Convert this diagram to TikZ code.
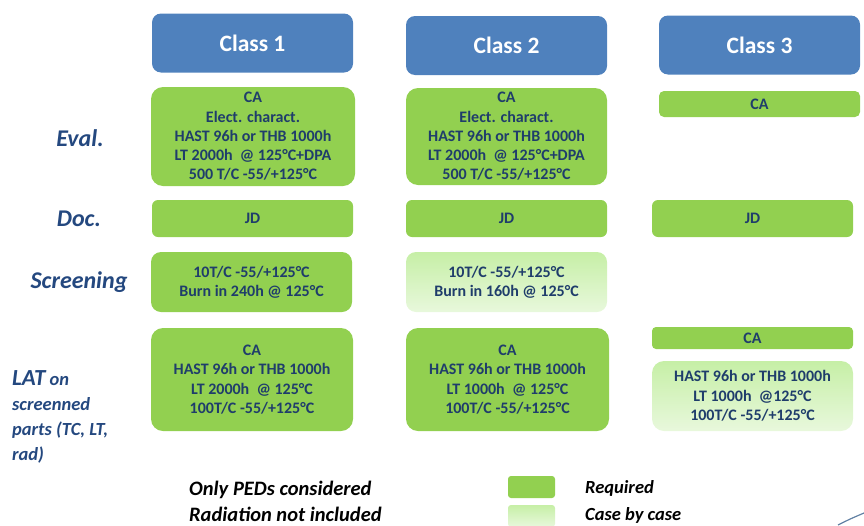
\documentclass[tikz,border=0pt]{standalone}
\usepackage{fontspec}
\setmainfont{Carlito}
\begin{document}
\definecolor{hblue}{HTML}{4F81BD}
\definecolor{reqgreen}{HTML}{92D050}
\definecolor{cbctop}{HTML}{C6EFA6}
\definecolor{cbcbot}{HTML}{E8F8DC}
\definecolor{boxtext}{HTML}{1F3D6B}
\definecolor{rowtext}{HTML}{24487F}
\begin{tikzpicture}[x=1pt,y=-1pt,
  hdr/.style={fill=hblue,rounded corners=9pt,text=white,inner sep=0pt,
    font=\fontsize{23.5}{28}\selectfont\bfseries,minimum width=201pt,minimum height=59pt},
  req/.style={fill=reqgreen,rounded corners=#1,text=boxtext,align=center,inner sep=0pt,
    font=\fontsize{16}{19.3}\selectfont\bfseries},
  req/.default=12pt,
  cbc/.style={top color=cbctop,bottom color=cbcbot,rounded corners=12pt,text=boxtext,
    align=center,inner sep=0pt,font=\fontsize{16}{19.3}\selectfont\bfseries},
  rowlabel/.style={text=rowtext,font=\fontsize{24}{28}\selectfont\bfseries\itshape,inner sep=0pt},
  note/.style={text=black,font=\fontsize{20.5}{25}\selectfont\bfseries\itshape,inner sep=0pt,anchor=west},
  legend/.style={text=black,font=\fontsize{18.5}{22}\selectfont\bfseries\itshape,inner sep=0pt,anchor=west}
]
\useasboundingbox (0,0) rectangle (864,525);

% class headers
\node[hdr] (c1) at (252.5,43) {Class 1};
\node[hdr] (c2) at (506.5,45.5) {Class 2};
\node[hdr] (c3) at (759.5,45) {Class 3};

% row labels
\node[rowlabel] (lev) at (80,138) {Eval.};
\node[rowlabel] (ldoc) at (79,219) {Doc.};
\node[rowlabel] (lscr) at (79,282) {Screening};
\node[text=rowtext,align=left,anchor=north west,inner sep=0pt,
  font=\fontsize{18.5}{24.8}\selectfont\bfseries\itshape] (llat) at (12,370.5)
  {{\fontsize{23}{24.8}\selectfont LAT} on\\screenned\\parts (TC, LT,\\rad)};

% evaluation
\node[req,minimum width=204pt,minimum height=99pt] (e1) at (253,136.5)
  {CA\\Elect. charact.\\HAST 96h or THB 1000h\\LT 2000h\ \ @ 125°C+DPA\\500 T/C -55/+125°C};
\node[req,minimum width=201pt,minimum height=97pt] (e2) at (506.5,136.5)
  {CA\\Elect. charact.\\HAST 96h or THB 1000h\\LT 2000h\ \ @ 125°C+DPA\\500 T/C -55/+125°C};
\node[req=5pt,minimum width=201pt,minimum height=26pt] (e3) at (759.5,104) {CA};

% documentation
\node[req=6pt,minimum width=201pt,minimum height=37pt] (d1) at (252.5,218.5) {JD};
\node[req=6pt,minimum width=201pt,minimum height=37pt] (d2) at (506.5,218.5) {JD};
\node[req=6pt,minimum width=201pt,minimum height=37pt] (d3) at (752.5,218.5) {JD};

% screening
\node[req=10pt,minimum width=201pt,minimum height=60pt] (s1) at (251.5,282)
  {10T/C -55/+125°C\\Burn in 240h @ 125°C};
\node[cbc,rounded corners=10pt,minimum width=201pt,minimum height=60pt] (s2) at (506.5,282)
  {10T/C -55/+125°C\\Burn in 160h @ 125°C};

% lot acceptance tests
\node[req,minimum width=202pt,minimum height=103pt] (t1) at (252,379.5)
  {CA\\HAST 96h or THB 1000h\\LT 2000h\ \ @ 125°C\\100T/C -55/+125°C};
\node[req,minimum width=203pt,minimum height=103pt] (t2) at (507.5,379.5)
  {CA\\HAST 96h or THB 1000h\\LT 1000h\ \ @ 125°C\\100T/C -55/+125°C};
\node[req=4pt,minimum width=201pt,minimum height=22pt] (t3a) at (752.5,338) {CA};
\node[cbc,minimum width=201pt,minimum height=70pt] (t3b) at (752.5,396)
  {HAST 96h or THB 1000h\\LT 1000h\ \ @125°C\\100T/C -55/+125°C};

% notes
\node[note] (n1) at (189,490) {Only PEDs considered};
\node[note] (n2) at (189,514) {Radiation not included};

% legend
\node[fill=reqgreen,rounded corners=3pt,minimum width=47pt,minimum height=22pt,inner sep=0pt] (kreq) at (531.5,487) {};
\node[top color=cbctop,bottom color=cbcbot,rounded corners=3pt,minimum width=47pt,minimum height=22pt,inner sep=0pt] (kcbc) at (531.5,516) {};
\node[legend] (treq) at (585,488) {Required};
\node[legend] (tcbc) at (585,515) {Case by case};

% corner swoosh
\draw[hblue!60!gray,line width=1.2pt] (838,525) .. controls (850,519) .. (864,513);
\end{tikzpicture}
\end{document}
